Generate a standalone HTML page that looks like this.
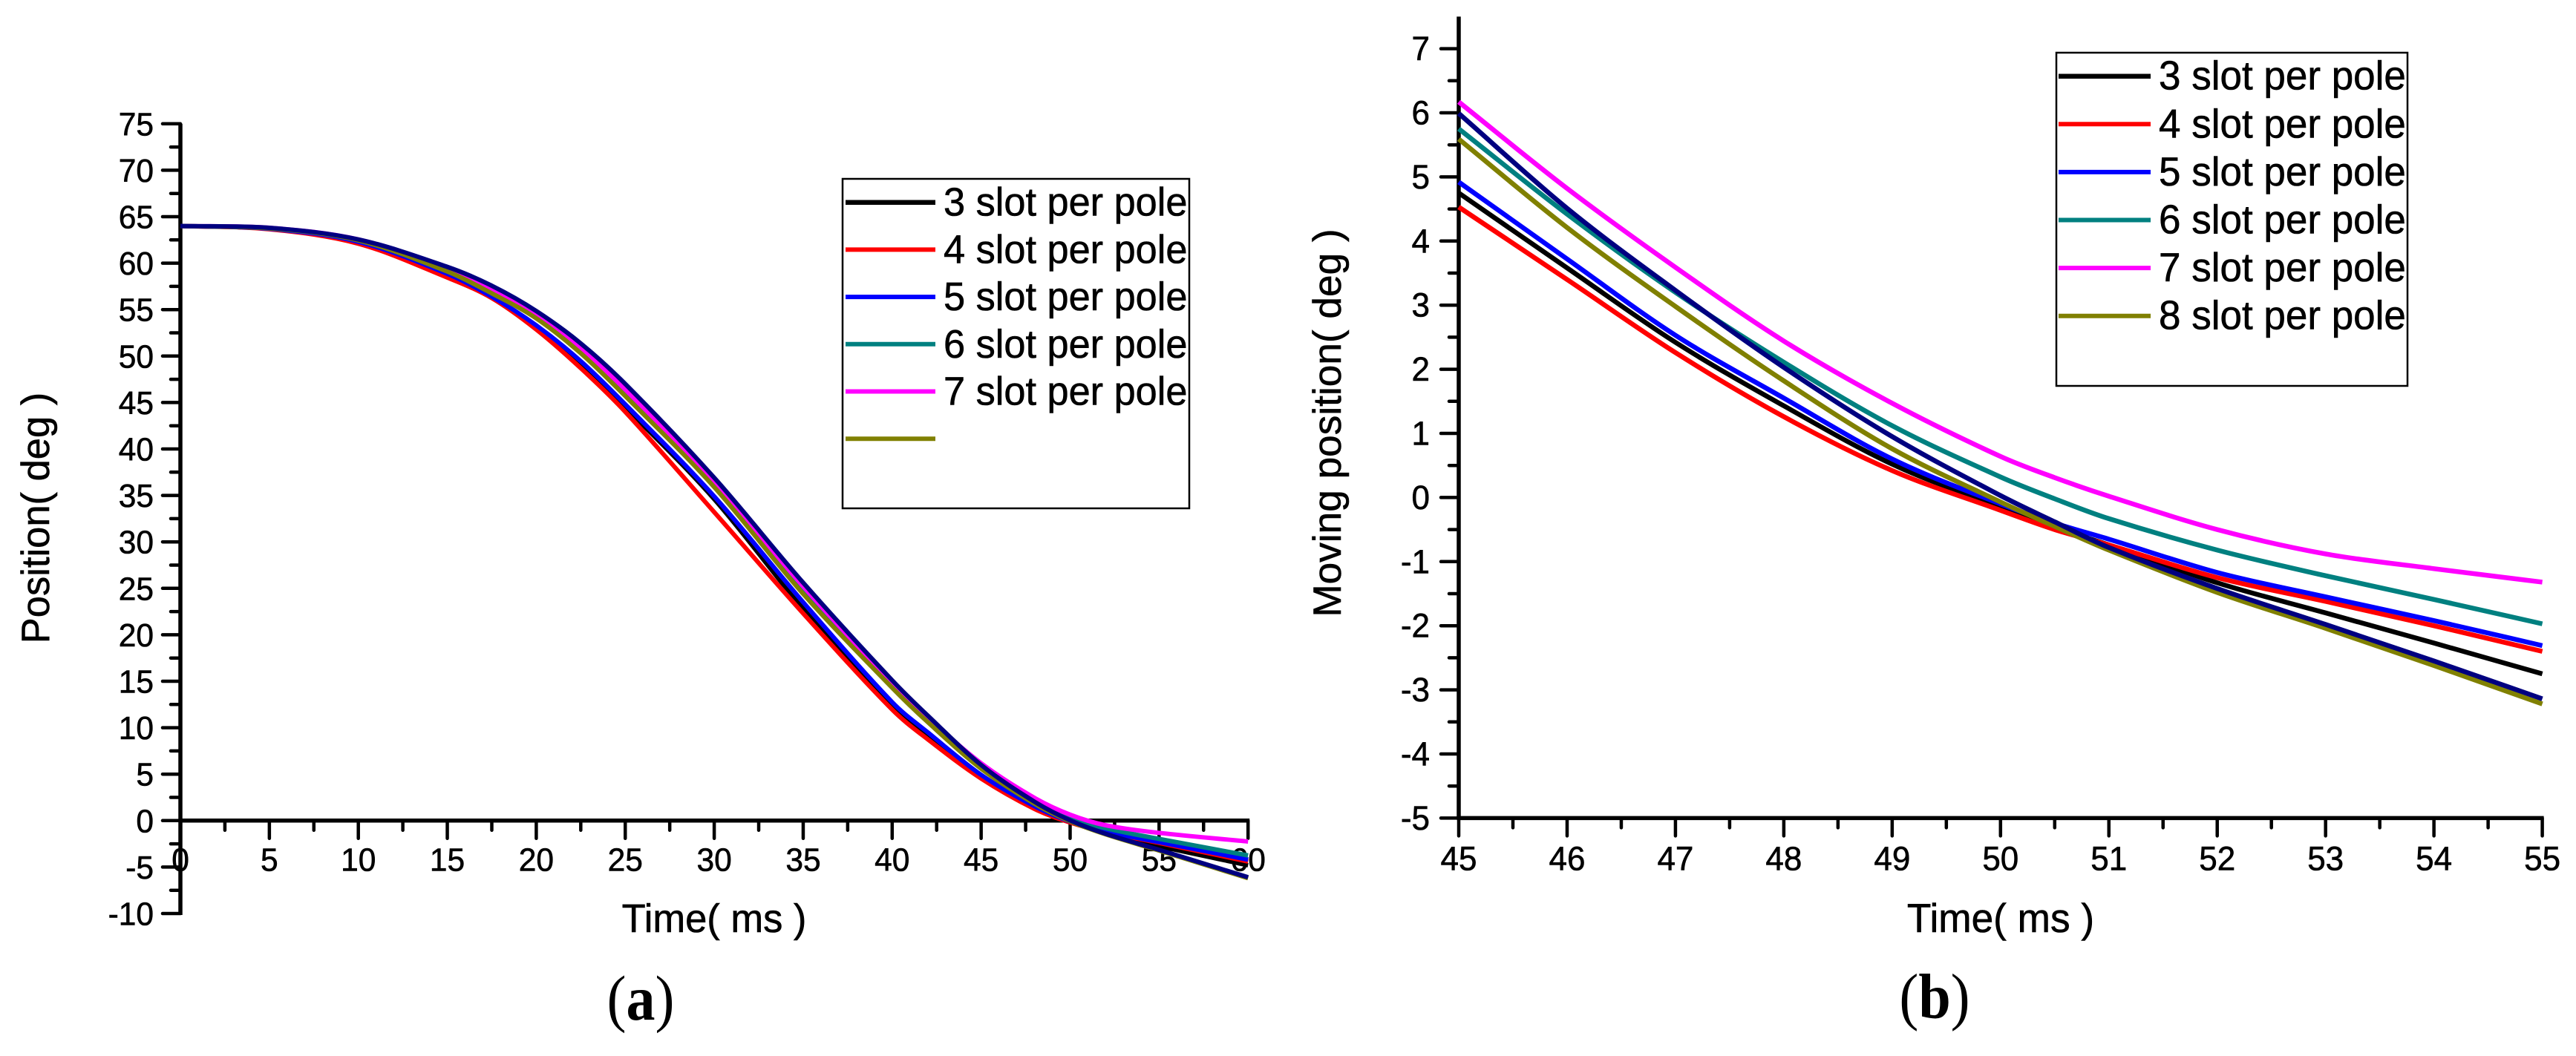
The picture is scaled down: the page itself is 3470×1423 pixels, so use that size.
<!DOCTYPE html>
<html>
<head>
<meta charset="utf-8">
<title>Position versus time for slot per pole variants</title>
<style>
html,body{margin:0;padding:0;background:#fff;width:3470px;height:1423px;overflow:hidden}
svg{position:absolute;left:0;top:0;display:block}
text{font-family:"Liberation Sans",Arial,sans-serif;fill:#000;stroke:#000;stroke-width:.6}
text.cap{font-family:"Liberation Serif","Times New Roman",serif;stroke:none}
</style>
</head>
<body>
<svg id="fig" xmlns="http://www.w3.org/2000/svg" width="3470" height="1423" viewBox="0 0 3470 1423"></svg>
<script>
// ----- Panel (a) data -----
const leftTimes   = [0,5,10,15,17.5,20,22.5,25,30,35,40,42,45,48,50,52,55,60];
const leftBlack   = [64,63.7,62.3,58.65,56.3,53.1,49.2,44.5,34.6,22.8,12.3,9.1,4.75,1.43,-0.15,-1.33,-2.75,-4.8];
const leftRed     = [64,63.65,62.1,58.45,56.24,52.86,48.7,44.0,33.2,22.3,11.95,8.75,4.53,1.26,-0.2,-1.25,-2.4,-4.4];
const leftBlue    = [64,63.7,62.3,58.85,56.4,53.3,49.45,44.8,34.9,23.5,12.75,9.5,4.92,1.55,-0.1,-1.17,-2.31,-4.2];
const leftTeal    = [64,63.75,62.5,59.3,56.95,54.3,50.6,46.0,36.2,24.8,14.55,10.85,5.75,2.11,0.32,-0.82,-1.97,-3.75];
const leftMagenta = [64,63.8,62.55,59.45,57.15,54.5,50.85,46.4,36.5,25.2,14.85,11.1,6.17,2.44,0.64,-0.5,-1.32,-2.25];
const leftOlive   = [64,63.75,62.45,59.1,56.75,54.06,50.3,45.7,35.9,24.4,14.3,10.6,5.59,1.82,-0.07,-1.48,-3.22,-6.2];
const leftNavy    = [64,63.8,62.55,59.6,57.57,54.85,51.36,47.0,36.9,25.6,15.1,11.3,5.99,2.03,0.03,-1.42,-3.14,-6.1];
const leftXTicks  = [0,5,10,15,20,25,30,35,40,45,50,55,60];
const leftYTicks  = [-10,-5,0,5,10,15,20,25,30,35,40,45,50,55,60,65,70,75];
const leftLegendLabels = ["3 slot per pole","4 slot per pole","5 slot per pole","6 slot per pole","7 slot per pole",""];

// ----- Panel (b) data -----
const rightTimes   = [45,46,47,48,49,50,50.5,51,52,53,54,55];
const rightBlack   = [4.75,3.58,2.42,1.43,0.52,-0.15,-0.47,-0.74,-1.33,-1.8,-2.27,-2.75];
const rightRed     = [4.53,3.40,2.26,1.26,0.42,-0.2,-0.5,-0.74,-1.25,-1.62,-2.0,-2.4];
const rightBlue    = [4.92,3.72,2.53,1.55,0.6,-0.1,-0.4,-0.65,-1.17,-1.55,-1.92,-2.31];
const rightTeal    = [5.75,4.42,3.20,2.11,1.12,0.32,-0.02,-0.33,-0.82,-1.22,-1.59,-1.97];
const rightMagenta = [6.17,4.82,3.59,2.44,1.47,0.64,0.31,0.02,-0.5,-0.88,-1.11,-1.32];
const rightOlive   = [5.59,4.21,2.98,1.82,0.76,-0.07,-0.45,-0.82,-1.48,-2.04,-2.62,-3.22];
const rightNavy    = [5.99,4.51,3.23,2.03,0.95,0.03,-0.38,-0.78,-1.42,-1.98,-2.55,-3.14];
const rightXTicks  = [45,46,47,48,49,50,51,52,53,54,55];
const rightYTicks  = [-5,-4,-3,-2,-1,0,1,2,3,4,5,6,7];
const rightLegendLabels = ["3 slot per pole","4 slot per pole","5 slot per pole","6 slot per pole","7 slot per pole","8 slot per pole"];

const seriesColors = ["#000000","#ff0000","#0000ff","#008080","#ff00ff","#808000","#000080"];
const seriesKeys = ["black","red","blue","teal","magenta","olive","navy"];

const svg = document.getElementById('fig');
const NS = 'http://www.w3.org/2000/svg';

function el(parent, tag, attrs, name){
  const e = document.createElementNS(NS, tag);
  for (const k in attrs) e.setAttribute(k, attrs[k]);
  
  
  parent.appendChild(e);
  return e;
}
function txt(parent, x, y, s, size, anchor, sy, name, cls, rot){
  let tf = 'translate(' + x + ' ' + y + ')';
  if (rot) tf += ' rotate(' + rot + ')';
  tf += ' scale(1 ' + sy + ')';
  const t = el(parent, 'text', {transform: tf, 'font-size': size, 'text-anchor': anchor}, name);
  if (cls) t.setAttribute('class', cls);
  t.textContent = s;
  return t;
}
function smoothPath(xs, ys){
  const n = xs.length;
  const m = xs.map((x, i) => {
    const a = Math.max(i - 1, 0), b = Math.min(i + 1, n - 1);
    return (ys[b] - ys[a]) / (xs[b] - xs[a]);
  });
  let d = 'M' + xs[0].toFixed(2) + ' ' + ys[0].toFixed(2);
  for (let i = 0; i < n - 1; i++){
    const h = (xs[i+1] - xs[i]) / 3;
    d += 'C' + (xs[i] + h).toFixed(2) + ' ' + (ys[i] + m[i] * h).toFixed(2) + ' ' +
         (xs[i+1] - h).toFixed(2) + ' ' + (ys[i+1] - m[i+1] * h).toFixed(2) + ' ' +
         xs[i+1].toFixed(2) + ' ' + ys[i+1].toFixed(2);
  }
  return d;
}

function drawPanel(cfg){
  const g = el(svg, 'g', {}, cfg.id);
  const sx = t => cfg.x0 + (t - cfg.t0) * cfg.kx;
  const sy = v => cfg.y0 - (v - cfg.v0) * cfg.ky;

  // axes
  el(g, 'line', {x1: sx(cfg.t0) - 2.5, x2: sx(cfg.t1) + 2, y1: sy(cfg.xAxisAt), y2: sy(cfg.xAxisAt), stroke: '#000', 'stroke-width': 5.5}, 'x-axis-line');
  el(g, 'line', {x1: sx(cfg.t0), x2: sx(cfg.t0), y1: sy(cfg.vTop), y2: sy(cfg.vBottom) + 2, stroke: '#000', 'stroke-width': 5.5}, 'y-axis-line');

  // x ticks
  cfg.xTicks.forEach((t, i) => {
    el(g, 'line', {x1: sx(t), x2: sx(t), y1: sy(cfg.xAxisAt), y2: sy(cfg.xAxisAt) + 24, stroke: '#000', 'stroke-width': 4.5, 'stroke-linecap': 'round'}, 'x-major-tick');
    if (i < cfg.xTicks.length - 1) {
      const m = (t + cfg.xTicks[i + 1]) / 2;
      el(g, 'line', {x1: sx(m), x2: sx(m), y1: sy(cfg.xAxisAt), y2: sy(cfg.xAxisAt) + 13, stroke: '#000', 'stroke-width': 4.5, 'stroke-linecap': 'round'}, 'x-minor-tick');
    }
    txt(g, sx(t), cfg.xLabelY, String(t), cfg.tickFont, 'middle', cfg.tickSy, 'x-tick-label');
  });

  // y ticks
  cfg.yTicks.forEach((v, i) => {
    el(g, 'line', {x1: sx(cfg.t0) - 24, x2: sx(cfg.t0), y1: sy(v), y2: sy(v), stroke: '#000', 'stroke-width': 4.5, 'stroke-linecap': 'round'}, 'y-major-tick');
    if (i < cfg.yTicks.length - 1) {
      const m = (v + cfg.yTicks[i + 1]) / 2;
      el(g, 'line', {x1: sx(cfg.t0) - 13, x2: sx(cfg.t0), y1: sy(m), y2: sy(m), stroke: '#000', 'stroke-width': 4.5, 'stroke-linecap': 'round'}, 'y-minor-tick');
    }
    txt(g, cfg.yLabelX, sy(v) + 15.5, String(v), cfg.tickFont, 'end', cfg.tickSy, 'y-tick-label');
  });

  // axis titles and caption
  txt(g, cfg.xTitle[0], cfg.xTitle[1], 'Time( ms )', cfg.titleFont, 'middle', 1.03, 'x-axis-title');
  txt(g, cfg.yTitle[0], cfg.yTitle[1], cfg.yTitleText, cfg.titleFont, 'middle', 1.0, 'y-axis-title', null, -90);
  const cap = txt(g, cfg.cap[0], cfg.cap[1], '', 78, 'middle', 1.1, 'panel-caption', 'cap');
  const c1 = el(cap, 'tspan', {}, 'caption-open-paren');
  c1.textContent = '(';
  const c2 = el(cap, 'tspan', {'font-weight': 'bold'}, 'caption-letter');
  c2.textContent = cfg.capLetter;
  const c3 = el(cap, 'tspan', {}, 'caption-close-paren');
  c3.textContent = ')';

  // legend
  const lg = el(g, 'g', {}, 'legend');
  el(lg, 'rect', {x: cfg.legend.x, y: cfg.legend.y, width: cfg.legend.w, height: cfg.legend.h, fill: '#fff', stroke: '#000', 'stroke-width': 2.5}, 'legend-box');
  cfg.legendLabels.forEach((label, i) => {
    const y = cfg.legend.row0 + i * cfg.legend.dy;
    el(lg, 'line', {x1: cfg.legend.lx1, x2: cfg.legend.lx2, y1: y, y2: y, stroke: seriesColors[i], 'stroke-width': i === 0 ? 6.5 : 6}, 'legend-swatch-' + seriesKeys[i]);
    if (label) txt(lg, cfg.legend.tx, y + 18, label, cfg.legend.font, 'start', 1.03, 'legend-label');
  });

  // series
  cfg.series.forEach((vals, i) => {
    const xs = cfg.times.map(sx);
    const ys = vals.map(sy);
    el(g, 'path', {d: smoothPath(xs, ys), fill: 'none', stroke: seriesColors[i], 'stroke-width': cfg.lineW, 'stroke-linejoin': 'round'}, 'series-' + seriesKeys[i]);
  });
}

drawPanel({
  id: 'panel-a', t0: 0, t1: 60, v0: 0, x0: 243, kx: 23.97, y0: 1105.8, ky: 12.52,
  xAxisAt: 0, vTop: 75, vBottom: -10,
  xTicks: leftXTicks, yTicks: leftYTicks, xLabelY: 1173.5, yLabelX: 207,
  tickFont: 42.5, tickSy: 1.03, titleFont: 52.5,
  xTitle: [962, 1256], yTitle: [66, 698], yTitleText: 'Position( deg )',
  cap: [863, 1374], capLetter: 'a',
  legend: {x: 1135, y: 241, w: 467, h: 444, row0: 272.7, dy: 63.7, lx1: 1139, lx2: 1260, tx: 1271, font: 52.3},
  legendLabels: leftLegendLabels,
  times: leftTimes, lineW: 6,
  series: [leftBlack, leftRed, leftBlue, leftTeal, leftMagenta, leftOlive, leftNavy]
});

drawPanel({
  id: 'panel-b', t0: 45, t1: 55, v0: 0, x0: 1965, kx: 145.96, y0: 670.4, ky: 86.4,
  xAxisAt: -5, vTop: 7.5, vBottom: -5,
  xTicks: rightXTicks, yTicks: rightYTicks, xLabelY: 1172.7, yLabelX: 1926,
  tickFont: 44, tickSy: 1.03, titleFont: 53.2,
  xTitle: [2695, 1256], yTitle: [1806, 570], yTitleText: 'Moving position( deg )',
  cap: [2606, 1371.5], capLetter: 'b',
  legend: {x: 2770, y: 71, w: 473, h: 449, row0: 102.7, dy: 64.6, lx1: 2773, lx2: 2897, tx: 2908, font: 53},
  legendLabels: rightLegendLabels,
  times: rightTimes, lineW: 6.5,
  series: [rightBlack, rightRed, rightBlue, rightTeal, rightMagenta, rightOlive, rightNavy]
});
</script>
</body>
</html>
